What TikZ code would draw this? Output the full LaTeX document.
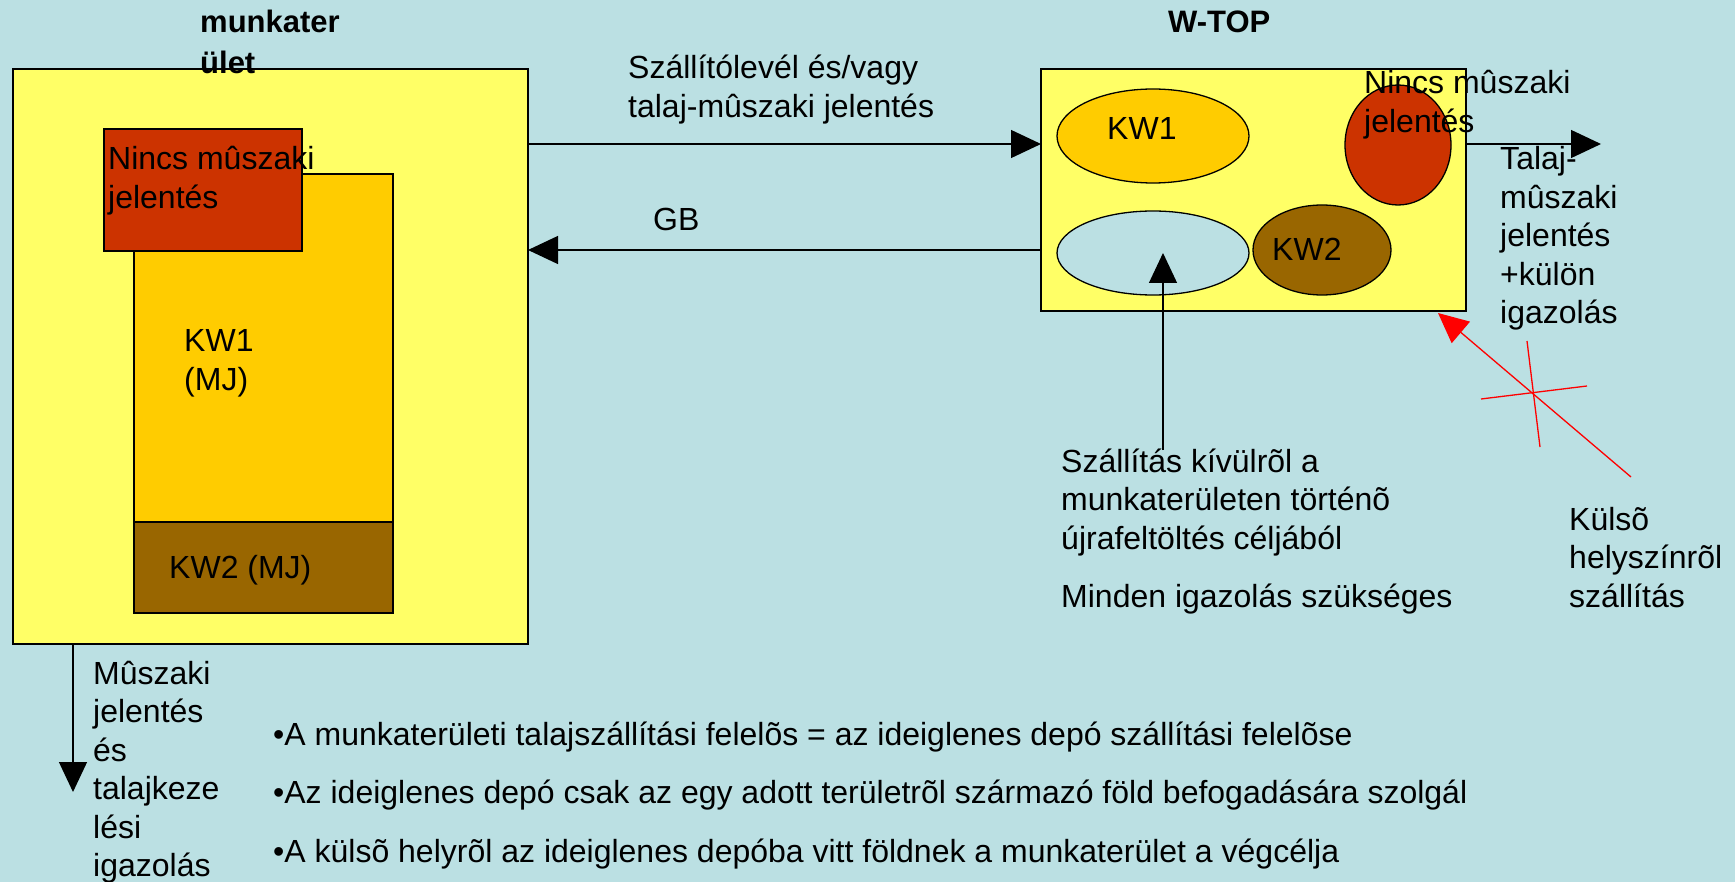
\documentclass[tikz,border=0pt]{standalone}
\usepackage{fontspec}
\setmainfont{Liberation Sans}
\usetikzlibrary{arrows.meta,shapes.geometric}
\definecolor{bgblue}{HTML}{BBE0E3}
\definecolor{boxyellow}{HTML}{FFFF66}
\definecolor{kwone}{HTML}{FFCC00}
\definecolor{kwred}{HTML}{CC3300}
\definecolor{kwtwo}{HTML}{996600}
\definecolor{redline}{HTML}{FF0000}
\begin{document}
\begin{tikzpicture}[x=1pt,y=-1pt,
  box/.style={draw=black, line width=1.3pt, inner sep=0pt, outer sep=0pt, anchor=north west},
  ell/.style={ellipse, draw=black, line width=1.3pt, inner sep=0pt, outer sep=0pt},
  txt/.style={font=\fontsize{32}{38.5}\selectfont, anchor=base west, align=left, inner sep=0pt},
  ttl/.style={font=\fontsize{31}{41}\selectfont\bfseries, anchor=base west, align=left, inner sep=0pt},
  arr/.style={line width=1.3pt, -{Triangle[length=30pt,width=28pt]}},
  redarr/.style={draw=redline, line width=1.3pt, -{Triangle[length=30pt,width=28pt]}},
  redthin/.style={draw=redline, line width=1.3pt}]
\fill[bgblue] (0,0) rectangle (1735,882);
\useasboundingbox (0,0) rectangle (1735,882);

% (multi-line text nodes are placed by the baseline of their last line)

% left area
\node[box, fill=boxyellow, minimum width=515pt, minimum height=575pt] (lbox) at (13,69) {};
\node[box, fill=kwone, minimum width=259pt, minimum height=348pt] (lkw1) at (134,174) {};
\node[box, fill=kwtwo, minimum width=259pt, minimum height=91pt] (lkw2) at (134,522) {};
\node[box, fill=kwred, minimum width=198pt, minimum height=122pt] (lred) at (104,129) {};
\node[ttl] (ltitle) at (200,74) {munkater\\ület};
\node[txt] (lredtxt) at (108,208.5) {Nincs mûszaki\\jelentés};
\node[txt] (lkw1txt) at (184,390.5) {KW1\\(MJ)};
\node[txt] (lkw2txt) at (169,578) {KW2 (MJ)};

% right area
\node[box, fill=boxyellow, minimum width=425pt, minimum height=242pt] (rbox) at (1041,69) {};
\node[ttl] (rtitle) at (1168,33) {W-TOP};
\node[ell, fill=kwone, minimum width=192pt, minimum height=94pt] (rkw1) at (1153,136) {};
\node[ell, fill=bgblue, minimum width=192pt, minimum height=84pt] (rlb) at (1153,253) {};
\node[ell, fill=kwtwo, minimum width=138pt, minimum height=90pt] (rkw2) at (1322,250) {};
\node[ell, fill=kwred, minimum width=106pt, minimum height=120pt] (rred) at (1398,145) {};
\node[txt] (rkw1txt) at (1107,140) {KW1};
\node[txt] (rkw2txt) at (1272,261) {KW2};
\node[txt] (rredtxt) at (1364,132.5) {Nincs mûszaki\\jelentés};

% connectors
\coordinate (ytop) at (0,144);
\coordinate (ygb) at (0,250);
\coordinate (outend) at (1601,144);
\coordinate (upstart) at (1163,450);
\coordinate (redstart) at (1631,477);
\coordinate (redtip) at (1438,313);
\coordinate (downend) at (73,792);
\draw[arr] (lbox.east |- ytop) -- (rbox.west |- ytop);
\draw[arr] (rbox.west |- ygb) -- (lbox.east |- ygb);
\draw[arr] (rbox.east |- ytop) -- (outend);
\draw[arr] (upstart) -- (upstart |- rlb.center);
\draw[redarr] (redstart) -- (redtip);
\draw[arr] (lbox.south -| downend) -- (downend);
\coordinate (c1a) at (1481,399);
\coordinate (c1b) at (1587,386);
\coordinate (c2a) at (1527,341);
\coordinate (c2b) at (1540,447);
\draw[redthin] (c1a) -- (c1b);
\draw[redthin] (c2a) -- (c2b);

% labels
\node[txt] (toplbl) at (628,117.5) {Szállítólevél és/vagy\\talaj-mûszaki jelentés};
\node[txt] (gblbl) at (653,231) {GB};
\node[txt] (outlbl) at (1500,324) {Talaj-\\mûszaki\\jelentés\\+külön\\igazolás};
\node[txt] (uplbl) at (1061,549) {Szállítás kívülrõl a\\munkaterületen történõ\\újrafeltöltés céljából};
\node[txt] (minden) at (1061,607) {Minden igazolás szükséges};
\node[txt] (kulso) at (1569,607) {Külsõ\\helyszínrõl\\szállítás};
\node[txt] (downlbl) at (93,876.5) {Mûszaki\\jelentés\\és\\talajkeze\\lési\\igazolás};
\node[txt] (b1) at (273,745) {•A munkaterületi talajszállítási felelõs = az ideiglenes depó szállítási felelõse};
\node[txt] (b2) at (273,803) {•Az ideiglenes depó csak az egy adott területrõl származó föld befogadására szolgál};
\node[txt] (b3) at (273,862) {•A külsõ helyrõl az ideiglenes depóba vitt földnek a munkaterület a végcélja};
\end{tikzpicture}
\end{document}
